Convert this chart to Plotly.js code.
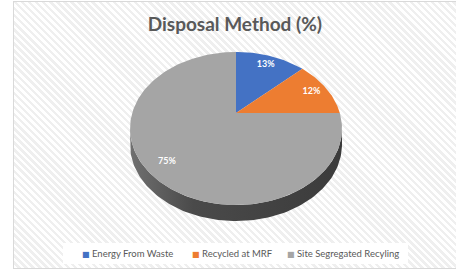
<!DOCTYPE html>
<html>
<head>
<meta charset="utf-8">
<script src="https://cdn.plot.ly/plotly-3.0.1.min.js"></script>
<style>
  html, body { margin: 0; padding: 0; background: #ffffff; }
  #wrap { position: relative; width: 456px; height: 272px; overflow: hidden; background: #ffffff; }
  #frame {
    position: absolute; left: 13px; top: 1px; width: 460px; height: 266px;
    border: 1px solid #d9d9d9;
    background: repeating-linear-gradient(45deg, #ffffff 0px, #ffffff 2.5px, #efefef 2.5px, #efefef 5px);
  }
  #chart { position: absolute; left: 0; top: 0; width: 456px; height: 272px; }
</style>
</head>
<body>
<div id="wrap">
  <div id="frame"></div>
  <div id="chart"></div>
</div>
<script>
// ---- data ----
const categories = ['Energy From Waste', 'Recycled at MRF', 'Site Segregated Recyling'];
const values = [13, 12, 75];
const colors = ['#4472C4', '#ED7D31', '#A5A5A5'];
const labelTexts = values.map(v => v + '%');

// ---- 3D pie geometry (perspective-projected disc) ----
const geo = { cx: 236, cy: 113, A: 103.8, B: 73.4, k: 0.2026, depth: 16, labelR: 0.83 };
// legend layout (pixel positions of each entry's swatch)
const legendX = [80, 189.5, 285];
const legendY = 253.5;
const legendBox = { x0: 63, x1: 408, y0: 243, y1: 264 };

function proj(theta, r) {
  const u = r * Math.sin(theta), v = r * Math.cos(theta);
  const w = 1 + geo.k * v;
  return [geo.cx + geo.A * u / w, geo.cy - geo.B * v / w];
}

const total = values.reduce((a, b) => a + b, 0);
const traces = [];

// side (visible front rim) between the extreme left/right points
const thR = Math.acos(-geo.k), thL = 2 * Math.PI - thR;
const sx = [], sy = [];
const N = 120;
for (let i = 0; i <= N; i++) {
  const t = thR + (thL - thR) * i / N;
  const p = proj(t, 1); sx.push(p[0]); sy.push(p[1]);
}
for (let i = N; i >= 0; i--) {
  const t = thR + (thL - thR) * i / N;
  const p = proj(t, 1); sx.push(p[0]); sy.push(p[1] + geo.depth);
}
traces.push({
  x: sx, y: sy, type: 'scatter', mode: 'lines', fill: 'toself',
  line: { width: 0, color: '#404040' }, fillcolor: '#444444',
  fillgradient: { type: 'horizontal', colorscale: [[0, '#707070'], [0.3, '#4a4a4a'], [1, '#3b3b3b']] },
  hoverinfo: 'skip', showlegend: false
});

// top faces of slices
let cum = 0;
const lx = [], ly = [];
values.forEach((v, i) => {
  const a0 = cum / total * 2 * Math.PI;
  cum += v;
  const a1 = cum / total * 2 * Math.PI;
  const xs = [geo.cx], ys = [geo.cy];
  const steps = Math.max(8, Math.round(v * 3));
  for (let s = 0; s <= steps; s++) {
    const p = proj(a0 + (a1 - a0) * s / steps, 1);
    xs.push(p[0]); ys.push(p[1]);
  }
  xs.push(geo.cx); ys.push(geo.cy);
  traces.push({
    x: xs, y: ys, type: 'scatter', mode: 'lines', fill: 'toself',
    line: { width: 0, color: colors[i] }, fillcolor: colors[i],
    name: categories[i], hoverinfo: 'skip', showlegend: false
  });
  const m = proj((a0 + a1) / 2, geo.labelR);
  lx.push(m[0]); ly.push(m[1]);
});

// data labels
traces.push({
  x: lx, y: ly, type: 'scatter', mode: 'text',
  text: labelTexts.map(t => '<b>' + t + '</b>'),
  textfont: { family: 'Lato, sans-serif', size: 9, color: '#ffffff' },
  hoverinfo: 'skip', showlegend: false
});

// legend (compact, Excel-style)
const annotations = categories.map((c, i) => ({
  x: legendX[i], y: legendY, xref: 'x', yref: 'y',
  xanchor: 'left', yanchor: 'middle', showarrow: false,
  text: '<span style="color:' + colors[i] + ';font-family:DejaVu Sans;font-size:8px">■</span> ' + c,
  font: { family: 'Lato, sans-serif', size: 9.5, color: '#595959' }
}));

const layout = {
  width: 456, height: 272,
  margin: { l: 0, r: 0, t: 0, b: 0 },
  paper_bgcolor: 'rgba(0,0,0,0)', plot_bgcolor: 'rgba(0,0,0,0)',
  xaxis: { range: [0, 456], visible: false, fixedrange: true },
  yaxis: { range: [272, 0], visible: false, fixedrange: true },
  title: {
    text: '<b>Disposal Method (%)</b>',
    font: { family: 'Lato, sans-serif', size: 19, color: '#595959' },
    x: 0.515, xanchor: 'center', y: 0.912, yanchor: 'middle'
  },
  showlegend: false,
  shapes: [{
    type: 'rect', xref: 'x', yref: 'y', layer: 'below',
    x0: legendBox.x0, x1: legendBox.x1, y0: legendBox.y0, y1: legendBox.y1,
    fillcolor: '#ffffff', line: { width: 0 }
  }],
  annotations: annotations
};

Plotly.newPlot('chart', traces, layout, { displayModeBar: false, staticPlot: true });
</script>
</body>
</html>
